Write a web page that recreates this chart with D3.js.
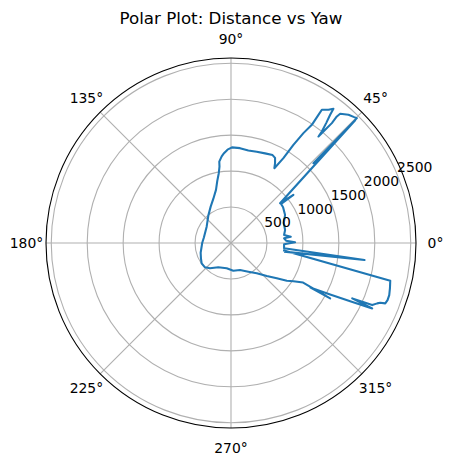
<!DOCTYPE html>
<html>
<head>
<meta charset="utf-8">
<script src="https://cdn.jsdelivr.net/npm/d3@7"></script>
<style>
  html, body { margin: 0; padding: 0; background: #ffffff; }
  svg { display: block; }
  text { font-family: "DejaVu Sans", sans-serif; fill: #000; }
</style>
</head>
<body>
<svg id="chart" width="453" height="464"></svg>
<script>
// ---- data (yaw in degrees, distance) ----
const yawDeg = [
  -8.05, -13.34, -15.83, -18.22, -20.04, -21.38, -21.84, -22.44, -23.74, -24.56,
  -24.85, -26.06, -27.48, -29.28, -29.19, -28.75, -31.51, -34.09, -37.69, -42.75,
  -49.70, -58.92, -71.57, -85.25, -99.65, -117.59, -129.70, -136.93, -145.29, -152.98,
  -162.25, 179.40, 168.08, 146.15, 128.78, 119.21, 111.91, 105.80, 102.46, 99.93,
  98.57, 98.19, 96.14, 94.46, 92.15, 89.40, 84.57, 79.38, 74.25, 69.20,
  64.70, 62.64, 61.10, 59.90, 58.30, 57.56, 56.61, 55.63, 55.70, 55.71,
  53.81, 52.65, 52.28, 51.56, 50.82, 50.60, 50.24, 49.93, 50.08, 49.80,
  47.50, 45.62, 44.77, 44.08, 44.65, 39.01, 37.61, 37.95, 34.47, 27.41,
  20.78, 13.54, 8.58, 6.02, 5.07, 2.39, 0.63, -1.41, -5.71, -7.27, -9.15
];
const distance = [
  745.6, 2276.3, 2297.9, 2317.1, 2317.5, 2303.8, 2235.9, 2200.4, 2145.6, 1853.2,
  2164.5, 1845.3, 1554.5, 1261.7, 1579.6, 1144.0, 1018.0, 936.9, 804.4, 677.2,
  553.5, 466.8, 396.5, 387.2, 357.5, 381.9, 458.0, 495.7, 496.5, 469.1,
  443.2, 399.8, 384.4, 407.6, 500.4, 579.4, 660.7, 767.3, 884.5, 985.7,
  1074.8, 1144.2, 1211.9, 1253.3, 1299.2, 1330.4, 1325.1, 1308.1, 1318.6, 1333.6,
  1352.7, 1333.2, 1268.2, 1202.7, 1386.7, 1617.6, 1830.1, 1991.4, 2158.3, 2242.5,
  2295.5, 2348.5, 2254.1, 2128.8, 2000.1, 1916.1, 2047.6, 2178.9, 2294.2, 2352.5,
  2418.5, 2449.9, 2466.4, 1595.9, 2428.1, 878.5, 1095.6, 883.3, 878.6, 847.3,
  785.2, 773.7, 746.6, 836.2, 741.2, 766.8, 891.6, 738.5, 742.0, 1871.9, 761.9
];
const thetaTicks = [0, 45, 90, 135, 180, 225, 270, 315];
const radialTicks = [500, 1000, 1500, 2000, 2500];
const titleText = "Polar Plot: Distance vs Yaw";
const rMax = 2573;

// ---- layout ----
const cx = 231, cy = 243, R = 185;
const svg = d3.select("#chart");
const g = svg.append("g").attr("transform", `translate(${cx},${cy})`);
const r = d3.scaleLinear().domain([0, rMax]).range([0, R]);
const toRad = d => (90 - d) * Math.PI / 180; // d3 radial angle (clockwise from top)

// radial grid circles
g.selectAll("circle.grid").data(radialTicks).join("circle")
  .attr("class", "grid")
  .attr("r", d => r(d))
  .attr("fill", "none")
  .attr("stroke", "#b0b0b0")
  .attr("stroke-width", 1.1);

// angular grid lines
const spoke = d3.lineRadial().angle(d => toRad(d[0])).radius(d => r(d[1]));
g.selectAll("path.spoke").data(thetaTicks).join("path")
  .attr("class", "spoke")
  .attr("d", d => spoke([[d, 0], [d, rMax]]))
  .attr("stroke", "#b0b0b0")
  .attr("stroke-width", 1.1)
  .attr("fill", "none");

// data line
const pts = yawDeg.map((y, i) => [y, distance[i]]);
const line = d3.lineRadial().angle(d => toRad(d[0])).radius(d => r(d[1]));
g.append("path")
  .attr("d", line(pts))
  .attr("fill", "none")
  .attr("stroke", "#1f77b4")
  .attr("stroke-width", 2.08)
  .attr("stroke-linejoin", "round")
  .attr("stroke-linecap", "square");

// outer spine
g.append("circle")
  .attr("r", R)
  .attr("fill", "none")
  .attr("stroke", "#000")
  .attr("stroke-width", 1.1);

// theta labels
const labR = 204.5;
g.selectAll("text.theta").data(thetaTicks).join("text")
  .attr("class", "theta")
  .attr("x", d => labR * Math.cos(d * Math.PI / 180))
  .attr("y", d => -labR * Math.sin(d * Math.PI / 180))
  .attr("dy", "0.36em")
  .attr("text-anchor", "middle")
  .style("font-size", "13.9px")
  .text(d => d + "°");

// radial labels at 22.5°
const rlabA = 22.5 * Math.PI / 180;
g.selectAll("text.rlab").data(radialTicks).join("text")
  .attr("class", "rlab")
  .attr("x", d => r(d) * Math.cos(rlabA))
  .attr("y", d => -r(d) * Math.sin(rlabA) - 2)
  .attr("text-anchor", "start")
  .style("font-size", "13.9px")
  .text(d => d);

// title
svg.append("text")
  .attr("x", cx)
  .attr("y", 24)
  .attr("text-anchor", "middle")
  .style("font-size", "16.7px")
  .text(titleText);
</script>
</body>
</html>
